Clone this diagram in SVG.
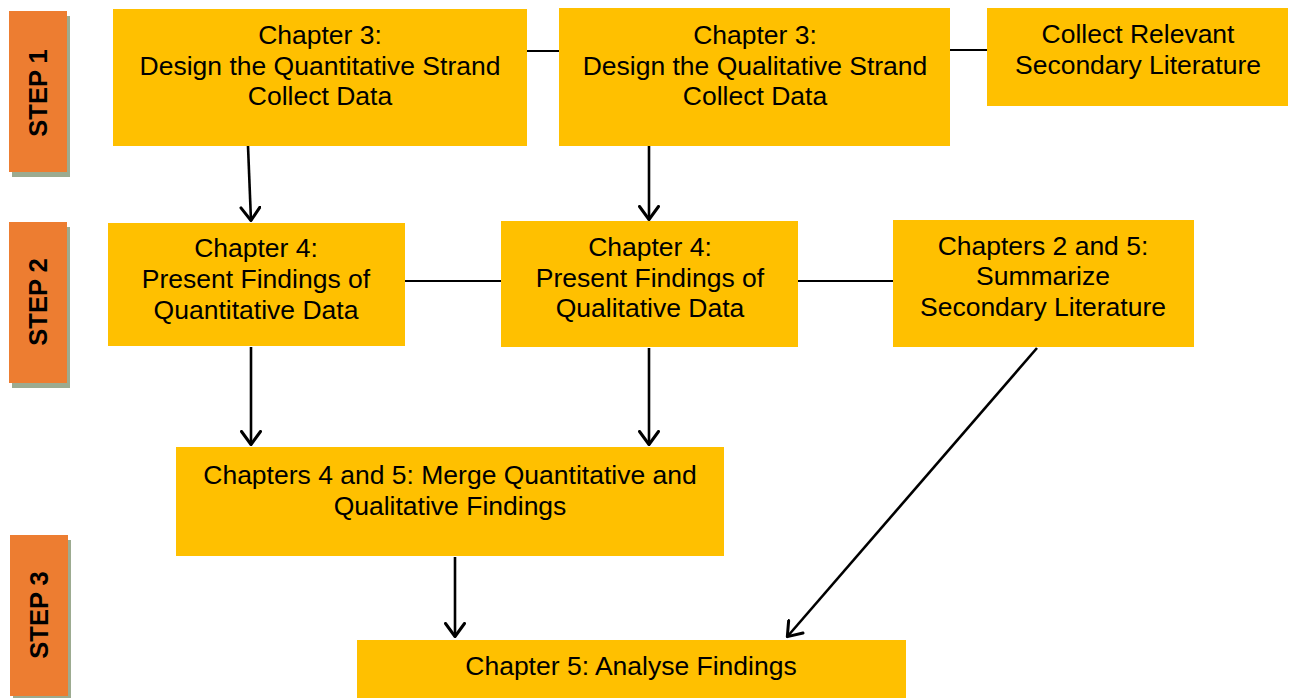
<svg xmlns="http://www.w3.org/2000/svg" width="1289" height="698" viewBox="0 0 1289 698">
<defs>
<style>
.box{fill:#FFC000}
.step{fill:#ED7D31}
.shadow{fill:#9CAB90}
.t{font-family:"Liberation Sans",Arial,sans-serif;font-size:26.5px;fill:#000;text-anchor:middle}
.st{font-family:"Liberation Sans",Arial,sans-serif;font-size:25.5px;font-weight:bold;fill:#000;text-anchor:middle}
.ln{stroke:#000;stroke-width:2;fill:none}
.ar{stroke:#000;stroke-width:2.6;fill:none;marker-end:url(#ah)}
</style>
<marker id="ah" viewBox="0 0 16 22" refX="15" refY="11" markerWidth="16" markerHeight="22" markerUnits="userSpaceOnUse" orient="auto">
<path d="M1.5,1.5 L14.5,11 L1.5,20.5" fill="none" stroke="#000" stroke-width="3" stroke-linecap="round" stroke-linejoin="round"/>
</marker>
</defs>
<rect width="1289" height="698" fill="#fff"/>

<g id="step1">
<rect class="shadow" x="12" y="16" width="58" height="161"/>
<rect class="step" x="9" y="11" width="58" height="161"/>
<text class="st" transform="translate(47,93) rotate(-90)">STEP 1</text>
</g>
<g id="step2">
<rect class="shadow" x="12" y="227" width="58" height="161"/>
<rect class="step" x="9" y="222" width="58" height="161"/>
<text class="st" transform="translate(47,302) rotate(-90)">STEP 2</text>
</g>
<g id="step3">
<rect class="shadow" x="13" y="540" width="58" height="161"/>
<rect class="step" x="10" y="535" width="58" height="161"/>
<text class="st" transform="translate(48,615) rotate(-90)">STEP 3</text>
</g>

<g id="connectors">
<line class="ln" x1="527" y1="51" x2="559" y2="51"/>
<line class="ln" x1="950" y1="50" x2="987" y2="50"/>
<line class="ln" x1="405" y1="281" x2="501" y2="281"/>
<line class="ln" x1="798" y1="281" x2="893" y2="281"/>
<line class="ar" x1="248" y1="146" x2="251" y2="221"/>
<line class="ar" x1="649" y1="146" x2="649" y2="220"/>
<line class="ar" x1="251" y1="347" x2="251" y2="445"/>
<line class="ar" x1="649" y1="348" x2="649" y2="445"/>
<line class="ar" x1="455" y1="557" x2="455" y2="637"/>
<line class="ar" x1="1037" y1="348" x2="787" y2="637"/>
</g>

<g id="quantDesign">
<rect class="box" x="113" y="9" width="414" height="137"/>
<text class="t" x="320" y="44">Chapter 3:</text>
<text class="t" x="320" y="75">Design the Quantitative Strand</text>
<text class="t" x="320" y="105">Collect Data</text>
</g>
<g id="qualDesign">
<rect class="box" x="559" y="8" width="391" height="138"/>
<text class="t" x="755" y="44">Chapter 3:</text>
<text class="t" x="755" y="75">Design the Qualitative Strand</text>
<text class="t" x="755" y="105">Collect Data</text>
</g>
<g id="collectLit">
<rect class="box" x="987" y="8" width="301" height="98"/>
<text class="t" x="1138" y="43">Collect Relevant</text>
<text class="t" x="1138" y="74">Secondary Literature</text>
</g>
<g id="quantFindings">
<rect class="box" x="108" y="223" width="297" height="123"/>
<text class="t" x="256" y="257">Chapter 4:</text>
<text class="t" x="256" y="288">Present Findings of</text>
<text class="t" x="256" y="319">Quantitative Data</text>
</g>
<g id="qualFindings">
<rect class="box" x="501" y="221" width="297" height="126"/>
<text class="t" x="650" y="256">Chapter 4:</text>
<text class="t" x="650" y="287">Present Findings of</text>
<text class="t" x="650" y="317">Qualitative Data</text>
</g>
<g id="summarizeLit">
<rect class="box" x="893" y="220" width="301" height="127"/>
<text class="t" x="1043" y="255">Chapters 2 and 5:</text>
<text class="t" x="1043" y="285">Summarize</text>
<text class="t" x="1043" y="316">Secondary Literature</text>
</g>
<g id="merge">
<rect class="box" x="176" y="447" width="548" height="109"/>
<text class="t" x="450" y="484">Chapters 4 and 5: Merge Quantitative and</text>
<text class="t" x="450" y="515">Qualitative Findings</text>
</g>
<g id="analyse">
<rect class="box" x="357" y="640" width="549" height="58"/>
<text class="t" x="631" y="675">Chapter 5: Analyse Findings</text>
</g>
</svg>
